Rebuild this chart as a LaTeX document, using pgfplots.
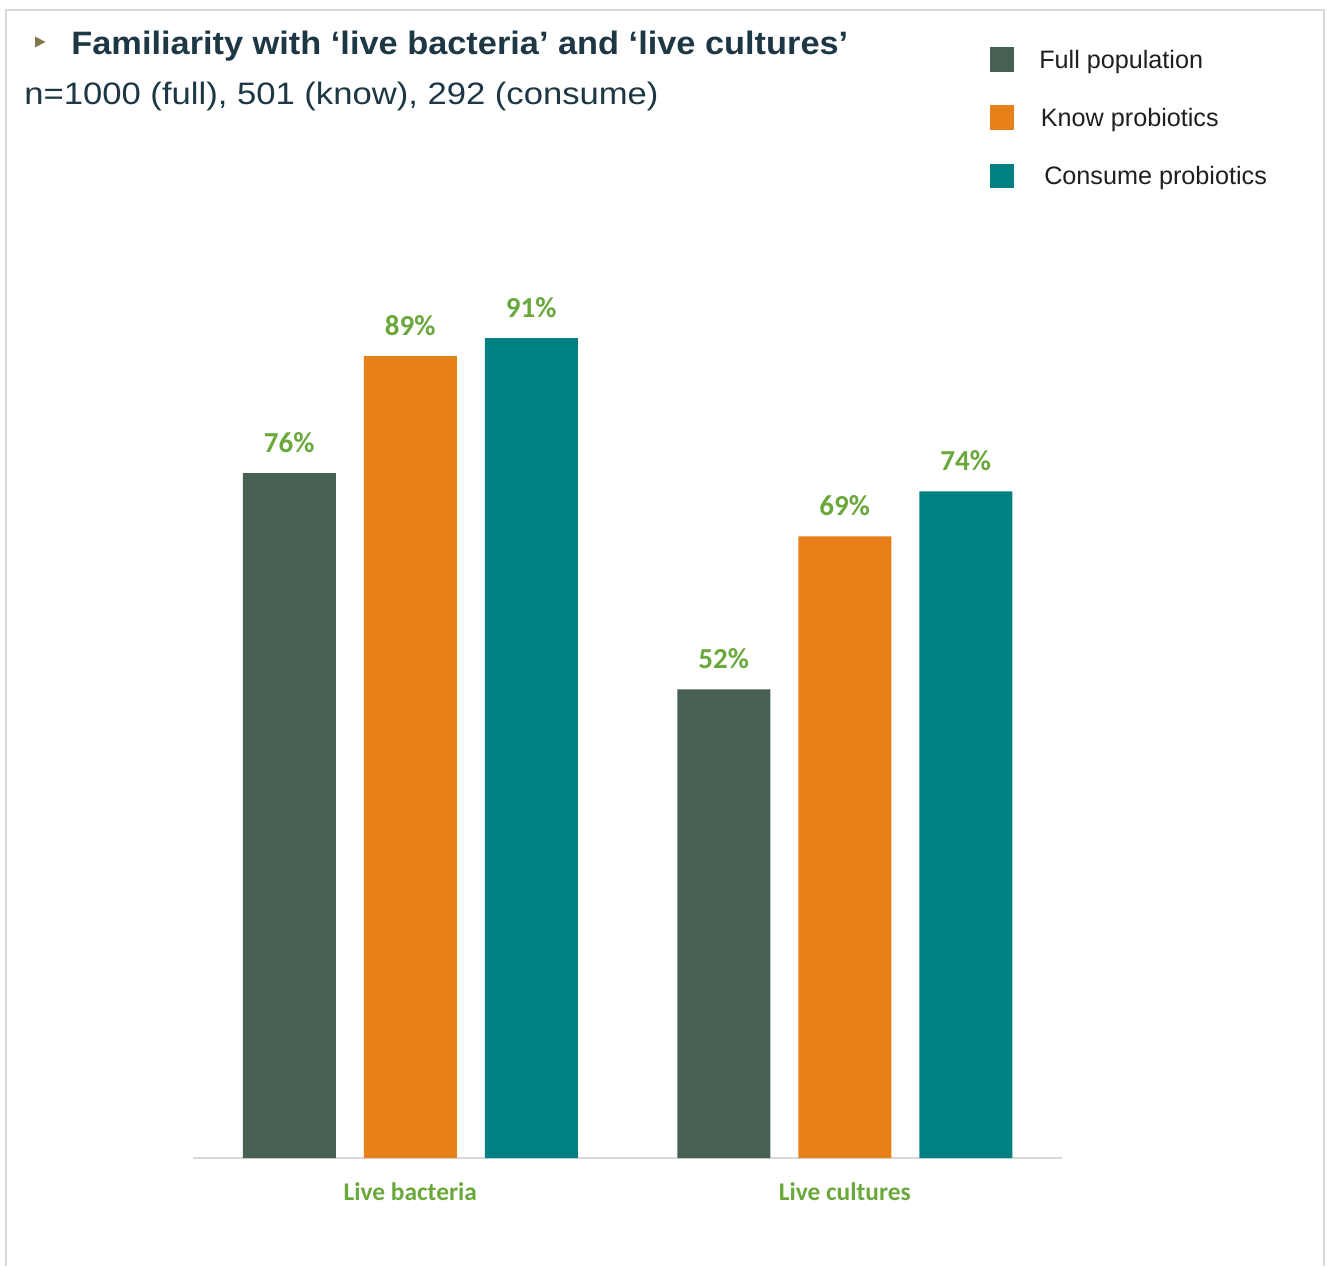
\documentclass[border=0pt]{standalone}
\usepackage{pgfplots}
\pgfplotsset{compat=1.18}
\usepackage{fontspec}
\setmainfont{Liberation Sans}
\newfontfamily\titlefont[FakeStretch=1.06]{Liberation Sans}
\newfontfamily\subfont[FakeStretch=1.117]{Liberation Sans}
\newfontfamily\calfont{Carlito}
\definecolor{cfull}{RGB}{70,96,82}
\definecolor{cknow}{RGB}{232,128,26}
\definecolor{ccons}{RGB}{0,128,128}
\definecolor{labgreen}{RGB}{106,168,60}
\definecolor{titlecol}{RGB}{30,55,68}
\definecolor{olivec}{RGB}{128,120,72}
\definecolor{framecol}{RGB}{218,218,218}
\definecolor{axiscol}{RGB}{217,217,217}
\begin{document}
\begin{tikzpicture}
\path (0pt,0pt) rectangle (663.5pt,-633pt);
\begin{axis}[
  at={(96.5pt,-579pt)}, anchor=south west,
  scale only axis, width=434.5pt, height=450.5pt,
  xmin=-0.5, xmax=1.5, ymin=0, ymax=100,
  ybar=14pt, bar width=46.5pt,
  axis x line=bottom, axis y line=none,
  x axis line style={-, draw=axiscol, line width=1.2pt},
  xtick={0,1}, xticklabels={Live bacteria, Live cultures},
  major tick length=0pt, xtick style={draw=none},
  xticklabel style={font=\calfont\bfseries\fontsize{12.7}{13}\selectfont, text=labgreen, anchor=base, yshift=-21pt, inner sep=0pt},
  /pgf/number format/assume math mode=true,
  nodes near coords={\pgfmathprintnumber{\pgfplotspointmeta}\%},
  every node near coord/.append style={font=\calfont\bfseries\fontsize{14.5}{14.5}\selectfont, text=labgreen, anchor=base, yshift=10.5pt, inner sep=0pt},
  legend style={at={(axis description cs:0.9172,1.2328)}, anchor=north west, draw=none, fill=none, inner sep=0pt, outer sep=0pt, font=\fontsize{12.6}{15}\selectfont, row sep=16.9pt, column sep=12.4pt, cells={anchor=base west}, nodes={inner sep=0pt, text=black!88}},
  legend image code/.code={\fill[#1,draw=none] (0pt,-1.7pt) rectangle (12.2pt,10.5pt);},
  clip=false,
]
\addplot[fill=cfull, draw=none] coordinates {(0,76) (1,52)};
\addplot[fill=cknow, draw=none] coordinates {(0,89) (1,69)};
\addplot[fill=ccons, draw=none] coordinates {(0,91) (1,74)};
\legend{Full population, \hspace*{0.8pt}Know probiotics, \hspace*{2.5pt}Consume probiotics}
\end{axis}
\begin{scope}[x=0.5pt,y=-0.5pt]
\draw[framecol, line width=1pt] (6,1266) -- (6,10) -- (1324,10) -- (1324,1266);
\fill[olivec] (35,36.5) -- (45.5,42) -- (35,47.5) -- cycle;
\node[anchor=base west, inner sep=0pt, text=titlecol, font=\titlefont\bfseries\fontsize{16.2}{18}\selectfont] at (71,54.5) {Familiarity with ‘live bacteria’ and ‘live cultures’};
\node[anchor=base west, inner sep=0pt, text=titlecol, font=\subfont\fontsize{15.5}{18}\selectfont] at (24,104.5) {n=1000 (full), 501 (know), 292 (consume)};
\end{scope}
\end{tikzpicture}
\end{document}
